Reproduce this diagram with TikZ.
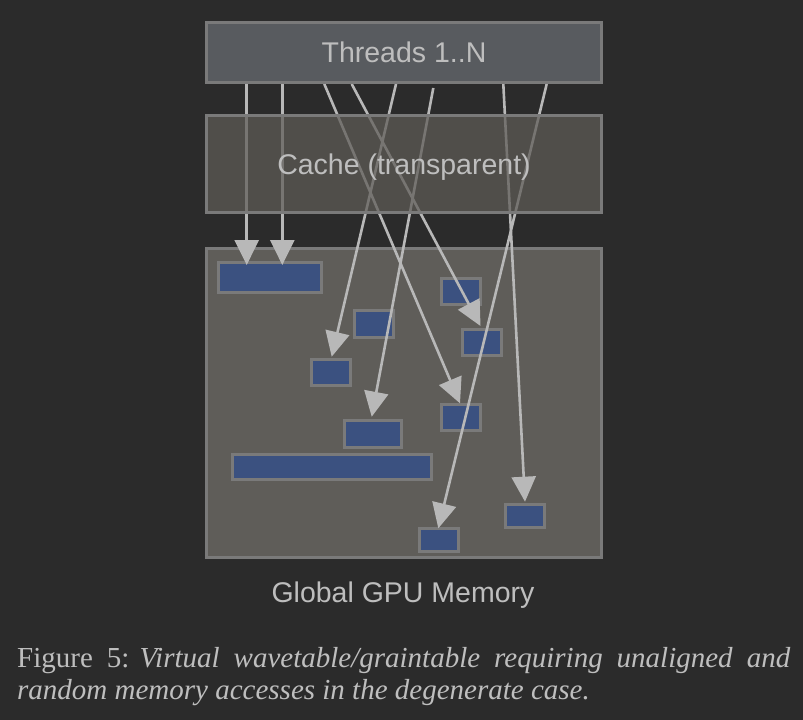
\documentclass[tikz,border=0pt]{standalone}
\usepackage{fontspec}
\setmainfont{Liberation Serif}
\newfontfamily\lsans{Liberation Sans}
\usetikzlibrary{arrows.meta}
\definecolor{bgc}{RGB}{43,43,43}
\definecolor{thrfill}{RGB}{88,91,95}
\definecolor{cachefill}{RGB}{95,92,87}
\definecolor{memfill}{RGB}{95,93,89}
\definecolor{edgec}{RGB}{122,122,122}
\definecolor{blockfill}{RGB}{59,81,128}
\definecolor{arrowc}{RGB}{184,184,184}
\definecolor{txtc}{RGB}{190,190,190}
\tikzset{
  bigbox/.style={draw=edgec, line width=3pt, inner sep=0pt, minimum width=395pt,
    font=\lsans\fontsize{28.5}{34}\selectfont, text=txtc},
  memblock/.style={draw=edgec, fill=blockfill, line width=3pt, inner sep=0pt},
  access/.style={draw=arrowc, line width=2.6pt, -{Triangle[width=24pt,length=25pt]}},
}
\begin{document}
\begin{tikzpicture}[x=1pt,y=-1pt]
\fill[bgc] (0,0) rectangle (803,720);
\useasboundingbox (0,0) rectangle (803,720);
% global memory
\node[bigbox, fill=memfill, minimum height=309pt] (mem) at (404,403) {};
\node[memblock, minimum width=103pt, minimum height=30pt] (b1) at (270,277.5) {};
\node[memblock, minimum width=39pt, minimum height=26pt] (b2) at (461,291.5) {};
\node[memblock, minimum width=39pt, minimum height=27pt] (b3) at (374,324) {};
\node[memblock, minimum width=39pt, minimum height=26pt] (b4) at (482,342.5) {};
\node[memblock, minimum width=39pt, minimum height=26pt] (b5) at (331,372.5) {};
\node[memblock, minimum width=39pt, minimum height=26pt] (b6) at (461,417.5) {};
\node[memblock, minimum width=57pt, minimum height=27pt] (b7) at (373,434) {};
\node[memblock, minimum width=199pt, minimum height=25pt] (b8) at (332,467) {};
\node[memblock, minimum width=39pt, minimum height=23pt] (b9) at (525,516) {};
\node[memblock, minimum width=39pt, minimum height=23pt] (b10) at (439,540) {};
% access endpoints
\coordinate (s1) at (246.7,84);
\coordinate (s2) at (282.3,84);
\coordinate (s3) at (324.3,84);
\coordinate (s4) at (351.7,84);
\coordinate (s5) at (396,84);
\coordinate (s6) at (433.3,88);
\coordinate (s7) at (503.3,84);
\coordinate (s8) at (546.7,84);
\coordinate (t1) at (246.7,265);
\coordinate (t2) at (282.3,265);
\coordinate (t3) at (460,403.3);
\coordinate (t4) at (480.5,326);
\coordinate (t5) at (331.7,356.7);
\coordinate (t6) at (371.7,416.7);
\coordinate (t7) at (525,501.7);
\coordinate (t8) at (438.3,528.3);
\foreach \i in {1,...,8} { \draw[access] (s\i) -- (t\i); }
% cache (semi-transparent over the accesses)
\node[bigbox, fill=cachefill, fill opacity=0.72, text opacity=1, minimum height=97pt] (cache) at (404,164) {};
\node[font=\lsans\fontsize{28.5}{34}\selectfont, text=txtc, inner sep=0pt, anchor=base] (cachelabel) at (404,174.5) {Cache (transparent)};
% threads
\node[bigbox, fill=thrfill, minimum height=60pt] (threads) at (404,52.5) {Threads 1..N};
% labels
\node[font=\lsans\fontsize{28.5}{34}\selectfont, text=txtc, inner sep=0pt, anchor=base] (memlabel) at (403,602) {Global GPU Memory};
\node[anchor=north west, inner sep=0pt, text width=773pt, align=justify, text=txtc,
  font=\fontsize{29}{32}\selectfont] (caption) at (17,647)
  {Figure 5:\hspace{0.35em}\textit{Virtual wavetable/graintable requiring unaligned and random memory accesses in the degenerate case.}};
\end{tikzpicture}
\end{document}
